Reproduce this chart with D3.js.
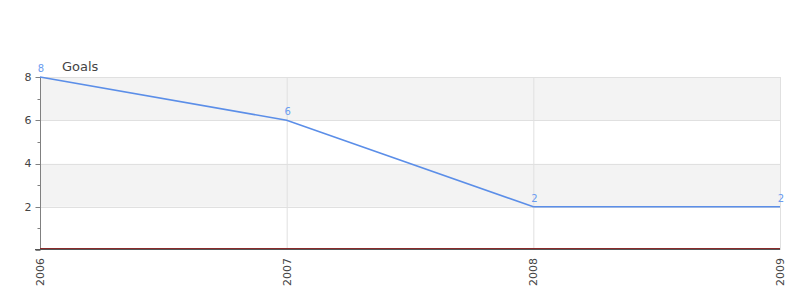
<!DOCTYPE html>
<html>
<head>
<meta charset="utf-8">
<script src="https://cdn.jsdelivr.net/npm/d3@7"></script>
<style>
  body { margin: 0; background: #fff; }
  svg { font-family: "DejaVu Sans", sans-serif; }
</style>
</head>
<body>
<svg id="chart"></svg>
<script>
// data
const years = ["2006", "2007", "2008", "2009"];
const goals = [8, 6, 2, 2];
const yTicks = [2, 4, 6, 8];
const yMinor = [1, 3, 5, 7];
const seriesName = "Goals";

const width = 800;
const height = 300;
const margin = { top: 77, right: 20, bottom: 50, left: 40 };

const svg = d3.select('#chart')
    .attr('width', width)
    .attr('height', height);

const x = d3.scalePoint()
    .domain(years)
    .range([margin.left, width - margin.right]);

const y = d3.scaleLinear()
    .domain([0, 8])
    .range([height - margin.bottom, margin.top]);

// alternating bands
const bands = [[0, 2], [2, 4], [4, 6], [6, 8]];
svg.selectAll('rect.band')
    .data(bands)
    .enter()
    .append('rect')
    .attr('class', 'band')
    .attr('x', margin.left)
    .attr('y', d => y(d[1]))
    .attr('width', width - margin.right - margin.left)
    .attr('height', d => y(d[0]) - y(d[1]))
    .attr('fill', (d, i) => i % 2 ? '#f3f3f3' : '#ffffff');

// grid lines
svg.selectAll('line.hgrid')
    .data(yTicks)
    .enter()
    .append('line')
    .attr('x1', margin.left)
    .attr('x2', width - margin.right)
    .attr('y1', d => Math.round(y(d)) + 0.5)
    .attr('y2', d => Math.round(y(d)) + 0.5)
    .attr('stroke', '#e0e0e0');

svg.selectAll('line.vgrid')
    .data(years.slice(1))
    .enter()
    .append('line')
    .attr('x1', d => x(d) + 0.5)
    .attr('x2', d => x(d) + 0.5)
    .attr('y1', margin.top)
    .attr('y2', y(0))
    .attr('stroke', '#e0e0e0');

// y axis
const yAxis = svg.append('g')
    .attr('transform', `translate(${margin.left + 0.5},0)`);
yAxis.append('line')
    .attr('y1', margin.top).attr('y2', y(0))
    .attr('stroke', '#808080');
yAxis.selectAll('line.major')
    .data([0].concat(yTicks))
    .enter()
    .append('line')
    .attr('x1', -5).attr('x2', 0)
    .attr('y1', d => Math.round(y(d)) + 0.5).attr('y2', d => Math.round(y(d)) + 0.5)
    .attr('stroke', '#808080');
yAxis.selectAll('line.minor')
    .data(yMinor)
    .enter()
    .append('line')
    .attr('x1', -3).attr('x2', 0)
    .attr('y1', d => Math.round(y(d)) + 0.5).attr('y2', d => Math.round(y(d)) + 0.5)
    .attr('stroke', '#808080');
yAxis.selectAll('text')
    .data(yTicks)
    .enter()
    .append('text')
    .attr('x', -9)
    .attr('y', d => y(d))
    .attr('dy', '0.35em')
    .attr('text-anchor', 'end')
    .attr('font-size', 11)
    .attr('fill', '#444')
    .text(d => d);

// x axis
svg.append('line')
    .attr('x1', margin.left - 5).attr('x2', width - margin.right)
    .attr('y1', y(0) - 0.5).attr('y2', y(0) - 0.5)
    .attr('stroke', '#555');
svg.append('line')
    .attr('x1', margin.left).attr('x2', width - margin.right)
    .attr('y1', y(0) - 1.5).attr('y2', y(0) - 1.5)
    .attr('stroke', '#8a2a2a');

svg.selectAll('text.xlab')
    .data(years)
    .enter()
    .append('text')
    .attr('transform', d => `translate(${x(d)},${y(0) + 8}) rotate(-90)`)
    .attr('dy', '0.35em')
    .attr('text-anchor', 'end')
    .attr('font-size', 11)
    .attr('fill', '#444')
    .text(d => d);

// line
const line = d3.line()
    .x((d, i) => x(years[i]))
    .y(d => y(d));

svg.append('path')
    .datum(goals)
    .attr('d', line)
    .attr('fill', 'none')
    .attr('stroke', '#5b8ee8')
    .attr('stroke-width', 1.6);

// value labels
svg.selectAll('text.val')
    .data(goals)
    .enter()
    .append('text')
    .attr('x', (d, i) => x(years[i]) + 1)
    .attr('y', d => y(d) - 5)
    .attr('text-anchor', 'middle')
    .attr('font-size', 10)
    .attr('fill', '#6a9cf0')
    .text(d => d);

// legend / title
svg.append('text')
    .attr('x', 62)
    .attr('y', 71)
    .attr('font-size', 13)
    .attr('fill', '#444')
    .text(seriesName);
</script>
</body>
</html>
